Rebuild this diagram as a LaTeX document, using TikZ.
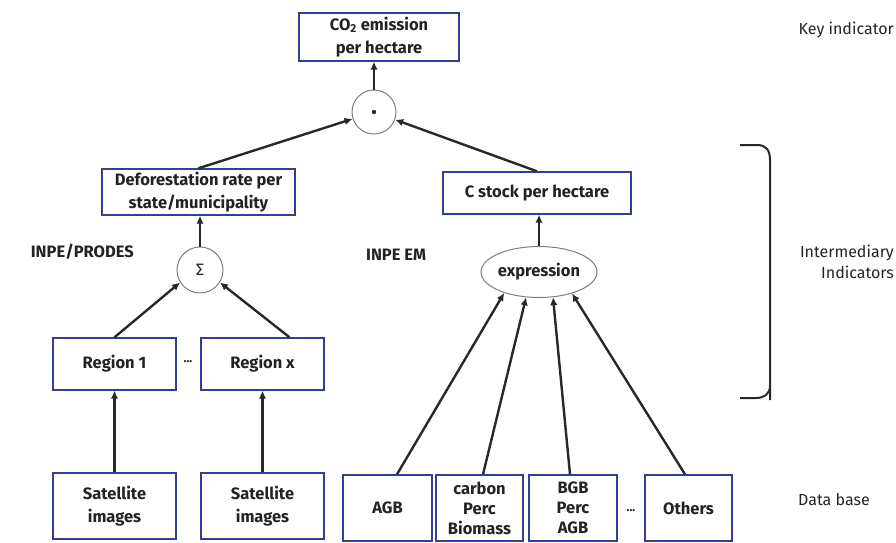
\documentclass[tikz,border=0pt]{standalone}
\usepackage{fontspec}
\setmainfont{Fira Sans}
\usetikzlibrary{arrows.meta,shapes.geometric,calc}
\definecolor{boxblue}{RGB}{52,62,152}
\definecolor{arrowgray}{RGB}{40,40,40}
\definecolor{circgray}{RGB}{125,125,125}
\definecolor{txt}{RGB}{35,35,35}
\begin{document}
\begin{tikzpicture}[x=1pt,y=-1pt,
  box/.style={draw=boxblue,line width=1.4pt,fill=white,align=center,text=txt,
    font=\fontsize{16.5}{23}\selectfont\bfseries,inner sep=0pt},
  box3/.style={box,font=\fontsize{16.5}{20}\selectfont\bfseries},
  opnode/.style={draw=circgray,line width=1pt,inner sep=0pt,text=txt},
  lbl/.style={text=txt,font=\fontsize{16.5}{20}\selectfont\bfseries,inner sep=0pt},
  rlbl/.style={text=txt,font=\fontsize{16}{21}\selectfont,inner sep=0pt},
  arr/.style={draw=arrowgray,line width=2.4pt,-{Latex[length=8pt,width=7.5pt]}}]
\useasboundingbox (0,0) rectangle (896,542);
% top
\node[box,minimum width=160pt,minimum height=48pt] (co2) at (379,37) {CO\textsubscript{2} emission\\per hectare};
\node[opnode,circle,minimum size=44pt] (dot) at (374,112) {};
\fill[arrowgray] (dot.center) circle (2.2pt);
% intermediary
\node[box,minimum width=193pt,minimum height=46pt] (defo) at (198.5,192) {Deforestation rate per\\state/municipality};
\node[box,minimum width=188pt,minimum height=42pt] (cstock) at (537,193) {C stock per hectare};
\node[opnode,circle,minimum size=46pt,font=\fontsize{16.5}{20}\selectfont] (sigma) at (200,270) {Σ};
\node[opnode,ellipse,minimum width=106pt,minimum height=51pt,font=\fontsize{16.5}{20}\selectfont\bfseries] (expr) at (539,272) {expression};
\node[lbl,anchor=east] (prodes) at (134,252) {INPE/PRODES};
\node[lbl,anchor=west] (em) at (366,255) {INPE EM};
\node[box,minimum width=123pt,minimum height=52pt] (reg1) at (114.5,364) {Region 1};
\node[box,minimum width=123pt,minimum height=52pt] (regx) at (262.5,364) {Region x};
\node[lbl,font=\fontsize{12}{14}\selectfont\bfseries] (dotsa) at (188,362) {...};
% data base
\node[box,minimum width=123pt,minimum height=66pt] (sat1) at (114.5,506) {Satellite\\images};
\node[box,minimum width=123pt,minimum height=66pt] (sat2) at (262.5,506) {Satellite\\images};
\node[box,minimum width=89pt,minimum height=66pt] (agb) at (387.5,508) {AGB};
\node[box3,minimum width=87pt,minimum height=66pt] (carb) at (479.5,508) {carbon\\Perc\\Biomass};
\node[box3,minimum width=88pt,minimum height=66pt] (bgb) at (573,508) {BGB\\Perc\\AGB};
\node[lbl,font=\fontsize{12}{14}\selectfont\bfseries] (dotsb) at (631,511) {...};
\node[box,minimum width=87pt,minimum height=66pt] (oth) at (688.5,508) {Others};
% connectors
\draw[arr] (sat1.north) -- (reg1.south);
\draw[arr] (sat2.north) -- (regx.south);
\draw[arr] (reg1.north) -- (sigma.212);
\draw[arr] ([xshift=27pt]regx.north) -- (sigma.-32);
\draw[arr] (sigma.north) -- (sigma.north |- defo.south);
\draw[arr] (defo.north) -- (dot);
\draw[arr] (cstock.north) -- (dot);
\draw[arr] (dot.north) -- (dot.north |- co2.south);
\draw[arr] (expr.north) -- (expr.north |- cstock.south);
\draw[arr] ([xshift=9.5pt]agb.north) -- (expr.211);
\draw[arr] ([xshift=3.5pt]carb.north) -- (expr.243);
\draw[arr] ([xshift=-3pt]bgb.north) -- (expr.299);
\draw[arr] ([xshift=-3.5pt]oth.north) -- (expr.327);
% bracket
\draw[arrowgray,line width=2pt] (740,145) -- (757,145) .. controls (766,145) and (770,150) .. (770,160) -- (770,400);
\draw[arrowgray,line width=2pt] (740,398) -- (756,398) .. controls (764,398) and (770,394) .. (770,386);
% level labels
\node[rlbl,anchor=east] (key) at (894,30) {Key indicator};
\node[rlbl,anchor=east,align=right] (inter) at (894,262) {Intermediary\\Indicators};
\node[rlbl,anchor=west] (db) at (798,500) {Data base};
\end{tikzpicture}
\end{document}
